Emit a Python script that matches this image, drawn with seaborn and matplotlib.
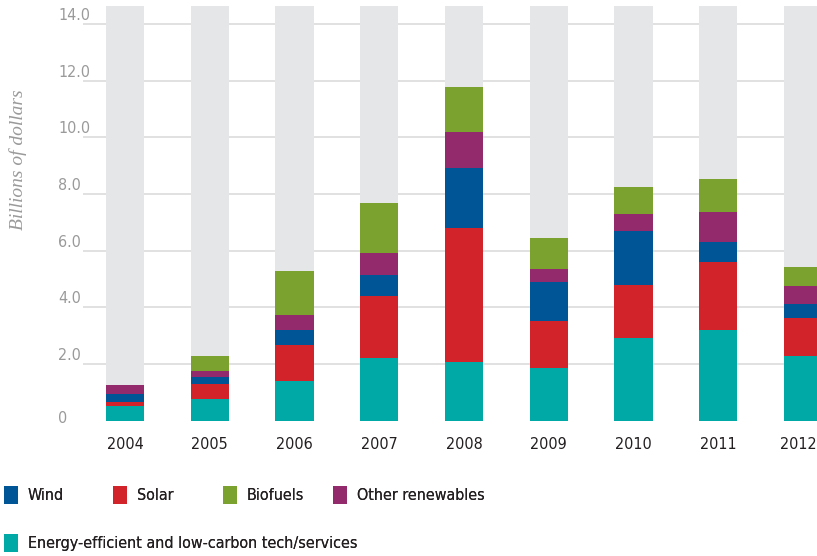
import matplotlib
matplotlib.use("Agg")
import matplotlib.pyplot as plt
import matplotlib.transforms as mtransforms
import seaborn as sns
import pandas as pd
import numpy as np
from matplotlib.patches import Patch

# ---- data (billions of dollars) ----
years = ["2004", "2005", "2006", "2007", "2008", "2009", "2010", "2011", "2012"]
energy_eff = [0.52, 0.75, 1.38, 2.20, 2.08, 1.85, 2.92, 3.21, 2.29]
solar      = [0.14, 0.53, 1.28, 2.21, 4.71, 1.65, 1.86, 2.40, 1.34]
wind       = [0.28, 0.25, 0.52, 0.71, 2.12, 1.39, 1.91, 0.68, 0.47]
other_ren  = [0.32, 0.20, 0.56, 0.81, 1.29, 0.46, 0.59, 1.08, 0.66]
biofuels   = [0.00, 0.53, 1.55, 1.76, 1.56, 1.08, 0.95, 1.16, 0.67]
y_ticks = [2.0, 4.0, 6.0, 8.0, 10.0, 12.0, 14.0]
y_tick_labels = ["2.0", "4.0", "6.0", "8.0", "10.0", "12.0", "14.0"]

# stacking order from bottom to top
series = [
    ("Energy-efficient and low-carbon tech/services", energy_eff, "#00A9A6"),
    ("Solar", solar, "#D2232A"),
    ("Wind", wind, "#005596"),
    ("Other renewables", other_ren, "#922A6B"),
    ("Biofuels", biofuels, "#7BA22F"),
]

sns.set_theme(style="white")
plt.rcParams["font.family"] = ["DejaVu Sans"]
plt.rcParams["font.stretch"] = "condensed"

W, H = 817, 556
fig = plt.figure(figsize=(W / 100, H / 100), dpi=100)

x_left_px, x_right_px = 82.6, 817.0
zero_px, top_px = 420.5, 6.0
px_per_unit = 28.33
ymax = (zero_px - top_px) / px_per_unit
ax = fig.add_axes([x_left_px / W, (H - zero_px) / H,
                   (x_right_px - x_left_px) / W, (zero_px - top_px) / H])

# grey background tracks
df_bg = pd.DataFrame({"year": years, "v": [ymax] * len(years)})
sns.barplot(data=df_bg, x="year", y="v", order=years, color="#E5E6E8",
            width=0.45, saturation=1, ax=ax, zorder=1, errorbar=None,
            linewidth=0)

# stacked segments: draw cumulative totals from top down
cum = np.zeros(len(years))
cums = []
for name, vals, col in series:
    cum = cum + np.array(vals)
    cums.append((name, cum.copy(), col))
for name, c, col in reversed(cums):
    d = pd.DataFrame({"year": years, "v": c})
    sns.barplot(data=d, x="year", y="v", order=years, color=col,
                width=0.45, saturation=1, ax=ax, zorder=3, errorbar=None,
                linewidth=0)

ax.set_xlim(-0.5, (817 - 125) / 84.75)
ax.set_ylim(0, ymax)
ax.set_yticks(y_ticks)
ax.set_yticklabels([])
ax.yaxis.grid(True, color="#DCDCDC", linewidth=1.2)
for gl in ax.get_ygridlines():
    gl.set_zorder(2)
ax.xaxis.grid(False)
for s in ax.spines.values():
    s.set_visible(False)
ax.tick_params(axis="both", length=0)
ax.tick_params(axis="x", pad=12, labelsize=11.5, labelcolor="#231F20")
ax.set_xlabel("")
ax.set_ylabel("")
fig.canvas.draw()
xt = ax.get_xticklabels()
for t in xt:
    t.set_fontstretch("condensed")
xt[-1].set_transform(xt[-1].get_transform() +
                     mtransforms.ScaledTranslation(-5 / 100, 0, fig.dpi_scale_trans))

# y tick labels, placed above the gridlines
ytr = ax.get_yaxis_transform()
xlab = (58 - x_left_px) / (x_right_px - x_left_px)
for v, lab in zip(y_ticks, y_tick_labels):
    ax.text(xlab, v + 0.14, lab, transform=ytr, ha="left", va="baseline",
            fontsize=11.5, color="#9A9A9A", clip_on=False)
ax.text(xlab, -0.09, "0", transform=ytr, ha="left", va="baseline",
        fontsize=11.5, color="#9A9A9A", clip_on=False)

fig.text(18 / W, 1 - 160 / H, "Billions of dollars", rotation=90,
         ha="center", va="center", fontsize=14, style="italic",
         family=["Liberation Serif", "DejaVu Serif"], color="#9A9A9A")

# legend items
legend_items = [
    ("Wind", "#005596", 4, 495),
    ("Solar", "#D2232A", 113, 495),
    ("Biofuels", "#7BA22F", 223, 495),
    ("Other renewables", "#922A6B", 333, 495),
    ("Energy-efficient and low-carbon tech/services", "#00A9A6", 4, 543),
]
fs = 11.5
fs_px = fs * 100 / 72
for lab, col, xp, yp in legend_items:
    lg = fig.legend(handles=[Patch(facecolor=col, edgecolor="none", label=lab)],
                    loc="center left", bbox_to_anchor=(xp / W, 1 - yp / H),
                    frameon=False, fontsize=fs, handlelength=14 / fs_px,
                    handleheight=22 / fs_px, handletextpad=(24 - 14) / fs_px,
                    borderpad=0, borderaxespad=0, labelcolor="#231F20")
    fig.add_artist(lg)

fig.savefig("out.png", dpi=100)
